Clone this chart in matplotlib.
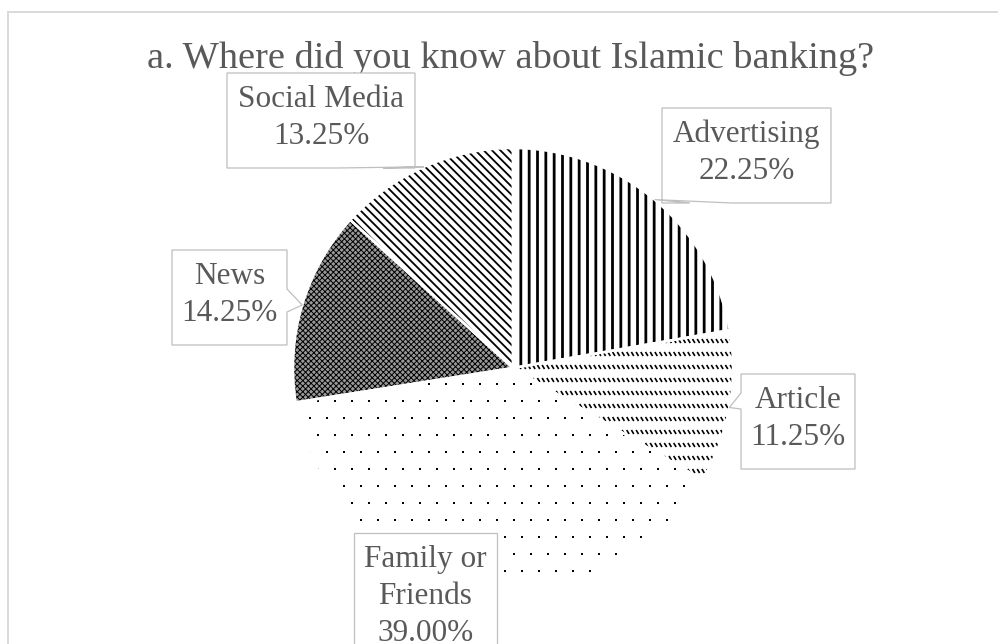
import numpy as np
import matplotlib
matplotlib.use("Agg")
from matplotlib import pyplot as plt
from matplotlib.patches import Polygon, Rectangle
from matplotlib.collections import LineCollection

plt.rcParams['font.family'] = ['Liberation Serif', 'DejaVu Serif']

title = 'a. Where did you know about Islamic banking?'
sources = ['Advertising', 'Article', 'Family or\nFriends', 'News', 'Social Media']
shares = [22.25, 11.25, 39.00, 14.25, 13.25]

W, H = 998, 644
TXT = '#595959'
BOX = '#bfbfbf'


def Y(y):
    # image rows count downwards, data y counts upwards
    return H - y


fig = plt.figure(figsize=(W / 100, H / 100), dpi=100)
ax = fig.add_axes([0, 0, 1, 1])

cx, cy, r = 513, Y(368), 220
wedges, _ = ax.pie(shares, startangle=90, counterclock=False, center=(cx, cy), radius=r,
                   wedgeprops=dict(linewidth=0, edgecolor='black', facecolor='white'))
ax.set_xlim(0, W)
ax.set_ylim(0, H)
ax.set_aspect('equal')
ax.axis('off')

# fill patterns
hatch = {0: ('||', 2.0, 'white'), 3: ('xxxxxx', 0.7, '#999999'), 4: ('\\\\\\\\', 1.3, 'white')}
for i, (h, lw, fc) in hatch.items():
    w = wedges[i]
    w.set_hatch(h)
    w.set_facecolor(fc)
    if hasattr(w, 'set_hatch_linewidth'):
        w.set_hatch_linewidth(lw)

# article: rows of short dashes
segs = []
for yy in np.arange(cy - r, cy + r, 13):
    for xx in np.arange(cx - r, cx + r, 4.7):
        segs.append([(xx, yy + 2), (xx + 2.4, yy - 2)])
dashes = LineCollection(segs, colors='black', linewidths=1.2, zorder=2)
ax.add_collection(dashes)
dashes.set_clip_path(wedges[1])

# family or friends: sparse staggered dots
px, py = [], []
for k, yy in enumerate(np.arange(cy - r, cy + r, 17)):
    xs = np.arange(cx - r + (k % 2) * 8.5, cx + r, 17)
    px.extend(xs)
    py.extend([yy] * len(xs))
dots = ax.scatter(px, py, s=2.4, marker='s', c='black', linewidths=0, zorder=2)
dots.set_clip_path(wedges[2])

# white gaps between slices
ax.pie(shares, startangle=90, counterclock=False, center=(cx, cy), radius=r,
       wedgeprops=dict(linewidth=1.8, edgecolor='white', facecolor='none', zorder=3))
ax.set_xlim(0, W)
ax.set_ylim(0, H)
ax.axis('off')

# outer chart border
ax.add_patch(Rectangle((8, Y(760)), 1200, Y(12) - Y(760), fill=False,
                       edgecolor='#d9d9d9', linewidth=1.4, zorder=0))

ax.text(511, Y(68), title, ha='center', va='baseline', fontsize=27.6, color=TXT)

# callout boxes: x0, x1, top, pointer side, pointer base span
boxes = [
    (662, 831, 108, 'bottom', (690, 732)),
    (741, 855, 374, 'left', (393, 409)),
    (354, 497, 533, None, None),
    (172, 287, 250, 'right', (289, 312)),
    (227, 415, 73, 'bottom', (337, 383)),
]

for w, name, v, (x0, x1, t, side, base) in zip(wedges, sources, shares, boxes):
    lines = name.split('\n') + [f'{v:.2f}%']
    b = t + 21 + 37 * len(lines)
    mid = np.deg2rad((w.theta1 + w.theta2) / 2)
    tip = (cx + r * np.cos(mid), cy + r * np.sin(mid))
    pts = [(x0, Y(t)), (x1, Y(t))]
    if side == 'right':
        pts += [(x1, Y(base[0])), tip, (x1, Y(base[1]))]
    pts += [(x1, Y(b))]
    if side == 'bottom':
        pts += [(base[1], Y(b)), tip, (base[0], Y(b))]
    pts += [(x0, Y(b))]
    if side == 'left':
        pts += [(x0, Y(base[1])), tip, (x0, Y(base[0]))]
    ax.add_patch(Polygon(pts, closed=True, facecolor='white', edgecolor=BOX,
                         linewidth=0.9, zorder=4))
    for k, s in enumerate(lines):
        ax.text((x0 + x1) / 2, Y(t + 34 + 37 * k), s, ha='center', va='baseline',
                fontsize=22.5, color=TXT, zorder=5)

fig.savefig('out.png', dpi=100)
